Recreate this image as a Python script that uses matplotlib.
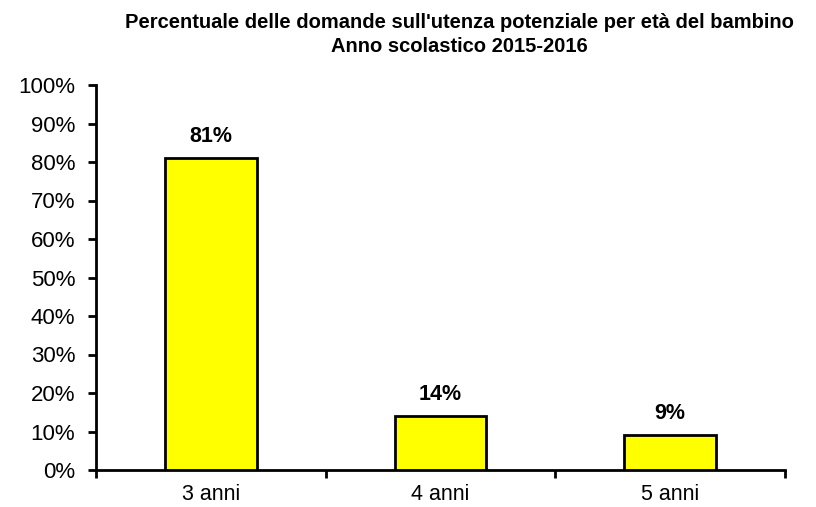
import matplotlib
matplotlib.use("Agg")
import matplotlib.pyplot as plt
import numpy as np

categories = ["3 anni", "4 anni", "5 anni"]
values = [81, 14, 9]
labels = ["81%", "14%", "9%"]
yticks = [0, 10, 20, 30, 40, 50, 60, 70, 80, 90, 100]

plt.rcParams['font.family'] = ['Liberation Sans', 'DejaVu Sans']

fig = plt.figure(figsize=(8.16, 5.07), dpi=100)
ax = fig.add_axes([96/816, 1-470/507, (785-96)/816, (470-85)/507])

x = np.arange(len(categories))
ax.bar(x, values, width=0.4, color='#FFFF00', edgecolor='black', linewidth=2, zorder=3)
for xi, v, l in zip(x, values, labels):
    ax.text(xi, v + 3.0, l, ha='center', va='bottom', fontsize=15.5, fontweight='bold')

ax.set_xlim(-0.5, len(categories) - 0.5)
ax.set_ylim(0, 100)
ax.set_yticks(yticks)
ax.set_yticklabels([f"{t}%" for t in yticks], fontsize=16)
ax.set_xticks(x)
ax.set_xticklabels(categories, fontsize=15.5)
ax.tick_params(axis='x', which='major', length=0, pad=10)
ax.set_xticks(np.arange(-0.5, len(categories)), minor=True)
ax.tick_params(axis='x', which='minor', length=6, width=2, direction='out')
ax.tick_params(axis='y', length=6, width=2, direction='out', pad=9)

for s in ['top', 'right']:
    ax.spines[s].set_visible(False)
for s in ['left', 'bottom']:
    ax.spines[s].set_linewidth(2)

fig.text(459/816, 1-22/507, "Percentuale delle domande sull'utenza potenziale per età del bambino",
         ha='center', va='center', fontsize=14.5, fontweight='bold')
fig.text(459/816, 1-46/507, "Anno scolastico 2015-2016",
         ha='center', va='center', fontsize=14.5, fontweight='bold')

fig.savefig("out.png", dpi=100)
